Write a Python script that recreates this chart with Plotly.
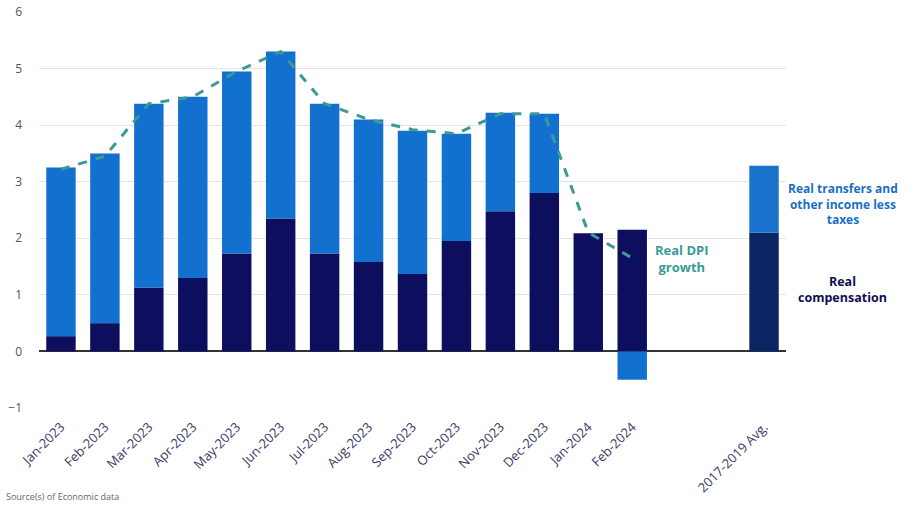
import plotly.graph_objects as go

months = ["Jan-2023", "Feb-2023", "Mar-2023", "Apr-2023", "May-2023", "Jun-2023",
          "Jul-2023", "Aug-2023", "Sep-2023", "Oct-2023", "Nov-2023", "Dec-2023",
          "Jan-2024", "Feb-2024"]
avg_label = "2017-2019 Avg."

real_comp = [0.27, 0.50, 1.13, 1.30, 1.73, 2.35, 1.73, 1.58, 1.37, 1.95, 2.48, 2.80, 2.09, 2.15]
real_transfers = [2.98, 3.00, 3.25, 3.20, 3.22, 2.95, 2.65, 2.52, 2.53, 1.90, 1.74, 1.40, 0.00, -0.50]
dpi_growth = [3.22, 3.45, 4.38, 4.50, 4.95, 5.30, 4.38, 4.10, 3.92, 3.85, 4.20, 4.20, 2.10, 1.65]

avg_comp = 2.10
avg_transfers = 1.18

gap_slots = 2  # empty category slots between Feb-2024 and the average

x_months = list(range(len(months)))
x_avg = len(months) + gap_slots
tickvals = x_months + [x_avg]
ticktext = months + [avg_label]

DARK = "#0d0f5e"
LIGHT = "#1270cf"
AVG_DARK = "#0b2563"
AVG_LIGHT = "#1a72cc"
TEAL = "#3b9a97"
FONT = "Open Sans, Noto Sans, sans-serif"

fig = go.Figure()
fig.add_trace(go.Bar(x=x_months + [x_avg], y=real_comp + [avg_comp],
                     marker=dict(color=[DARK] * len(months) + [AVG_DARK], line=dict(width=0)),
                     name="Real compensation", showlegend=False))
fig.add_trace(go.Bar(x=x_months + [x_avg], y=real_transfers + [avg_transfers],
                     marker=dict(color=[LIGHT] * len(months) + [AVG_LIGHT], line=dict(width=0)),
                     name="Real transfers", showlegend=False))
fig.add_trace(go.Scatter(x=x_months, y=dpi_growth, mode="lines",
                         line=dict(color=TEAL, width=3, dash="dash"),
                         name="Real DPI growth", showlegend=False))

fig.update_layout(
    barmode="relative",
    bargap=0.33,
    width=913, height=505,
    margin=dict(l=39, r=127, t=12, b=97),
    plot_bgcolor="white", paper_bgcolor="white",
    font=dict(family=FONT, size=12, color="#555555"),
    xaxis=dict(tickmode="array", tickvals=tickvals, ticktext=ticktext,
               tickangle=-45, range=[-0.5, x_avg + 0.5], automargin=False,
               showgrid=False, zeroline=False, showline=False,
               tickfont=dict(color="#3a3a66", size=13), ticks="",
               ticklabelstandoff=8),
    yaxis=dict(range=[-1, 6], dtick=1, showgrid=True, gridcolor="#e4e4e4",
               gridwidth=1, zeroline=True, zerolinecolor="#333333", zerolinewidth=1.5,
               automargin=False,
               tickfont=dict(color="#555555", size=12), ticks="", ticklabelstandoff=16),
)

fig.add_annotation(x=1.0, xref="paper", xanchor="left", xshift=0, y=2.6, yref="y",
                   text="<b>Real transfers and<br>other income less<br>taxes</b>",
                   showarrow=False, align="center",
                   font=dict(color="#1a6fc4", size=12, family=FONT))
fig.add_annotation(x=1.0, xref="paper", xanchor="left", xshift=10, y=1.1, yref="y",
                   text="<b>Real<br>compensation</b>",
                   showarrow=False, align="center",
                   font=dict(color="#0d0f4e", size=12.5, family=FONT))
fig.add_annotation(x=len(months) - 1, xref="x", xshift=50, y=1.65, yref="y",
                   text="<b>Real DPI<br>growth</b>",
                   showarrow=False, align="center",
                   font=dict(color=TEAL, size=13, family=FONT))
fig.add_annotation(x=0, xref="paper", xanchor="left", xshift=-35, y=0, yref="paper",
                   yanchor="bottom", yshift=-97,
                   text="Source(s) of Economic data",
                   showarrow=False, font=dict(color="#666666", size=9))

fig.write_html("out.html")
